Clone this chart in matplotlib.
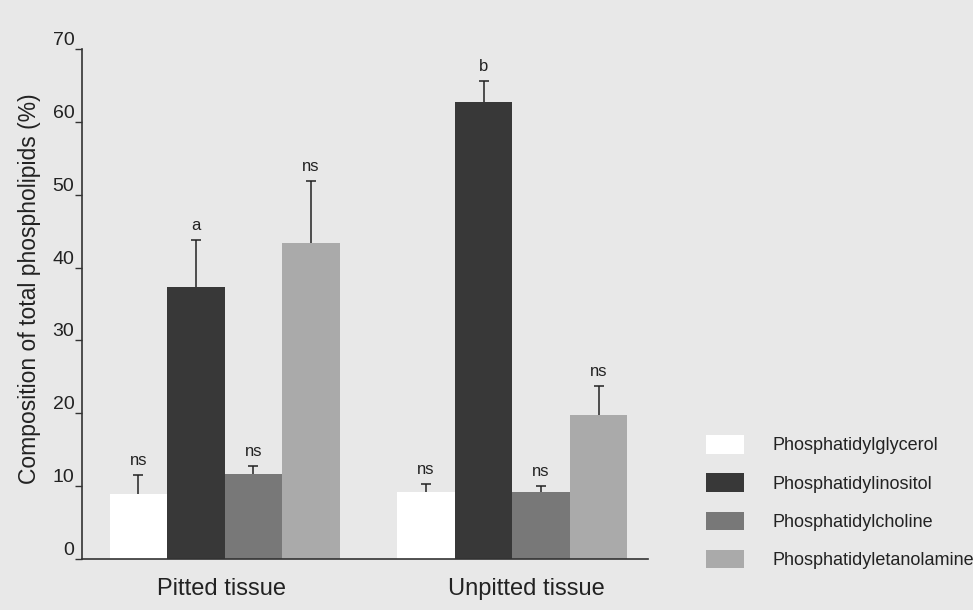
"""Phospholipid composition of pitted vs unpitted tissue, grouped bars."""
import matplotlib
matplotlib.use("Agg")
import matplotlib.pyplot as plt
import numpy as np

plt.rcParams["font.family"] = ["Liberation Sans", "DejaVu Sans"]

groups = ["Pitted tissue", "Unpitted tissue"]
lipids = ["Phosphatidylglycerol", "Phosphatidylinositol",
          "Phosphatidylcholine", "Phosphatidyletanolamine"]
pitted = [8.9, 37.4, 11.7, 43.4]
pitted_err = [2.6, 6.4, 1.1, 8.5]
unpitted = [9.2, 62.7, 9.2, 19.7]
unpitted_err = [1.1, 2.9, 0.8, 4.1]
pitted_sig = ["ns", "a", "ns", "ns"]
unpitted_sig = ["ns", "b", "ns", "ns"]
yticks = [0, 10, 20, 30, 40, 50, 60, 70]

colors = ["#ffffff", "#383838", "#787878", "#aaaaaa"]
bg = "#e8e8e8"
ink = "#222222"

fig = plt.figure(figsize=(9.73, 6.10), dpi=100, facecolor=bg)
ax = fig.add_axes([0.0843, 0.0836, 0.5817, 0.8361])
ax.set_facecolor("none")

handles = []
for g, (vals, errs, sigs) in enumerate([(pitted, pitted_err, pitted_sig),
                                        (unpitted, unpitted_err, unpitted_sig)]):
    x = np.arange(4) + g * 5
    vals = np.array(vals)
    errs = np.array(errs)
    bars = ax.bar(x, vals, width=1.0, color=colors, edgecolor="none")
    if g == 0:
        handles = list(bars)
    # upper-only error bars, cap only at the top
    ax.vlines(x, vals, vals + errs, color=ink, linewidth=1.1)
    ax.plot(x, vals + errs, linestyle="none", marker="_", markersize=7,
            markeredgewidth=1.1, color=ink)
    for xi, v, e, s in zip(x, vals, errs, sigs):
        ax.annotate(s, (xi, v + e), xytext=(0, 7), textcoords="offset points",
                    ha="center", va="baseline", fontsize=12, color=ink)

ax.set_xlim(-0.98, 8.86)
ax.set_ylim(0, 70)
ax.set_yticks(yticks)
ax.set_yticklabels([str(t) for t in yticks], fontsize=14, color=ink)
for lab in ax.get_yticklabels():
    lab.set_verticalalignment("bottom")
ax.tick_params(axis="y", length=5, width=1, pad=0.5, color="#333333")
ax.set_xticks([1.45, 6.75])
ax.set_xticklabels(groups, fontsize=17, color=ink)
ax.tick_params(axis="x", length=0, pad=14)

for side in ["top", "right"]:
    ax.spines[side].set_visible(False)
for side in ["left", "bottom"]:
    ax.spines[side].set_color("#333333")
    ax.spines[side].set_linewidth(1.2)

fig.text(30 / 973, 1 - 289 / 610, "Composition of total phospholipids (%)",
         rotation=90, ha="center", va="center", fontsize=16.5, color=ink)

fig.legend(handles, lipids, loc="upper left", bbox_to_anchor=(706 / 973, 1 - 435 / 610),
           frameon=False, fontsize=13, handlelength=2.08, handleheight=1.2,
           handletextpad=1.58, labelspacing=1.05, borderaxespad=0, borderpad=0,
           labelcolor=ink)

fig.savefig("out.png", dpi=100, facecolor=bg)
